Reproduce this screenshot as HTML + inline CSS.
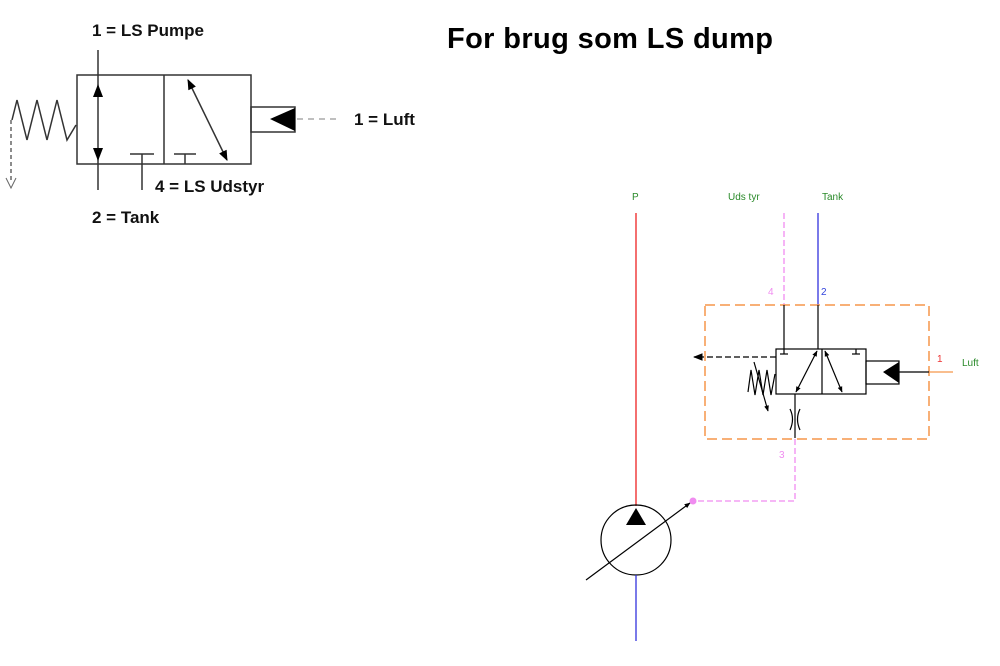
<!DOCTYPE html>
<html><head><style>
html,body{margin:0;padding:0;background:#fff;}
svg{display:block;}
</style></head><body>
<svg width="1000" height="666" viewBox="0 0 1000 666" xmlns="http://www.w3.org/2000/svg" font-family="Liberation Sans, sans-serif">
<defs>
<marker id="ah" viewBox="0 0 10 10" refX="9" refY="5" markerWidth="7" markerHeight="7" orient="auto-start-reverse"><path d="M0,1 L10,5 L0,9 z" fill="#000"/></marker>
<marker id="ahs" viewBox="0 0 10 10" refX="9" refY="5" markerWidth="5" markerHeight="5" orient="auto-start-reverse"><path d="M0,1 L10,5 L0,9 z" fill="#000"/></marker>
<marker id="ahm" viewBox="0 0 10 10" refX="9" refY="5" markerWidth="8" markerHeight="8" orient="auto-start-reverse"><path d="M0,1 L10,5 L0,9 z" fill="#000"/></marker>
</defs>
<!-- Top-left valve -->
<g stroke="#333" stroke-width="1.5" fill="none">
<rect x="77" y="75" width="174" height="89"/>
<line x1="164" y1="75" x2="164" y2="164"/>
<line x1="98" y1="50" x2="98" y2="190"/>
<line x1="130" y1="154" x2="154" y2="154"/><line x1="142" y1="154" x2="142" y2="190"/>
<line x1="174" y1="154" x2="196" y2="154"/><line x1="185" y1="154" x2="185" y2="164"/>
<line x1="188" y1="80" x2="227" y2="160" marker-start="url(#ah)" marker-end="url(#ah)"/>
<rect x="251" y="107" width="44" height="25"/>
<polyline points="12,120 17,100 27,140 37,100 47,140 57,100 67,140 76,125"/>
<line x1="11" y1="120" x2="11" y2="182" stroke-dasharray="4,3" stroke="#666"/>
<line x1="297" y1="119" x2="340" y2="119" stroke="#aaa" stroke-dasharray="6,5"/>
</g>
<polygon points="98,84 93,97 103,97" fill="#000"/>
<polygon points="98,161 93,148 103,148" fill="#000"/>
<polygon points="270,119 295,108 295,131" fill="#000"/>
<polyline points="6,178 11,188 16,178" stroke="#666" fill="none"/>
<g font-weight="bold" font-size="17" fill="#111">
<text x="92" y="36">1 = LS Pumpe</text>
<text x="354" y="125">1 = Luft</text>
<text x="155" y="192">4 = LS Udstyr</text>
<text x="92" y="223">2 = Tank</text>
</g>
<text x="447" y="48" font-size="29" font-weight="bold" fill="#000" textLength="326">For brug som LS dump</text>
<!-- Right circuit -->
<g font-size="10">
<text x="632" y="200" fill="#2a8a2a">P</text>
<text x="728" y="200" fill="#2a8a2a">Uds tyr</text>
<text x="822" y="200" fill="#2a8a2a">Tank</text>
<text x="768" y="295" fill="#f08cf0">4</text>
<text x="821" y="295" fill="#3344dd">2</text>
<text x="937" y="362" fill="#ee3333">1</text>
<text x="962" y="366" fill="#2a8a2a">Luft</text>
<text x="779" y="458" fill="#f08cf0">3</text>
</g>
<line x1="636" y1="213" x2="636" y2="506" stroke="#ee2222" stroke-width="1.3"/>
<line x1="784" y1="213" x2="784" y2="305" stroke="#f08cf0" stroke-width="1.3" stroke-dasharray="6,3"/>
<line x1="818" y1="213" x2="818" y2="305" stroke="#3333dd" stroke-width="1.3"/>
<rect x="705" y="305" width="224" height="134" fill="none" stroke="#f5964a" stroke-width="1.5" stroke-dasharray="10,5"/>
<line x1="929" y1="372" x2="953" y2="372" stroke="#f5964a" stroke-width="1.3"/>
<g stroke="#000" stroke-width="1.2" fill="none">
<rect x="776" y="349" width="90" height="45"/>
<line x1="822" y1="349" x2="822" y2="394"/>
<line x1="784" y1="305" x2="784" y2="354"/><line x1="780" y1="354" x2="788" y2="354"/>
<line x1="856" y1="354" x2="856" y2="349"/><line x1="852" y1="354" x2="860" y2="354"/>
<line x1="818" y1="305" x2="818" y2="349"/>
<line x1="796" y1="392" x2="817" y2="351" marker-start="url(#ahs)" marker-end="url(#ahs)"/>
<line x1="825" y1="351" x2="842" y2="392" marker-start="url(#ahs)" marker-end="url(#ahs)"/>
<rect x="866" y="361" width="33" height="23"/>
<line x1="899" y1="372" x2="929" y2="372"/>
<line x1="795" y1="394" x2="795" y2="438"/>
<path d="M790,409 Q795,419 790,430 M800,409 Q795,419 800,430"/>
<line x1="776" y1="357" x2="694" y2="357" stroke-dasharray="6,3" marker-end="url(#ahm)"/>
<polyline points="775,374 771,395 767,370 763,395 759,370 755,395 751,370 748,392"/>
<line x1="754" y1="362" x2="768" y2="411" marker-end="url(#ahs)"/>
<circle cx="636" cy="540" r="35"/>
<line x1="586" y1="580" x2="690" y2="503" marker-end="url(#ahs)"/>
</g>
<polygon points="883,372 899,362 899,383" fill="#000"/>
<polygon points="636,508 626,525 646,525" fill="#000"/>
<line x1="636" y1="575" x2="636" y2="641" stroke="#3333dd" stroke-width="1.3"/>
<polyline points="795,439 795,501 694,501" fill="none" stroke="#f08cf0" stroke-width="1.3" stroke-dasharray="6,3"/>
<circle cx="693" cy="501" r="3.5" fill="#f08cf0"/>
</svg>
</body></html>
